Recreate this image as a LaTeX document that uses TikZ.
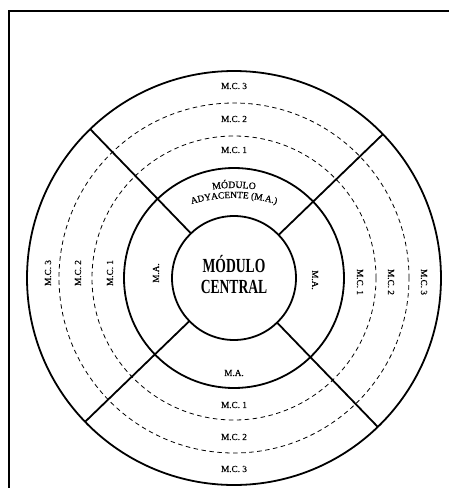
\documentclass[tikz,border=0pt]{standalone}
\usepackage{fontspec}
\usepackage{graphicx}
\setmainfont{Liberation Serif}
\newfontfamily\labfont[FakeBold=0.6]{Liberation Serif}
\usetikzlibrary{decorations.text}
\begin{document}
\begin{tikzpicture}[x=1pt,y=1pt,
  ring/.style={circle, draw, line width=1.8pt, inner sep=0pt, outer sep=0pt},
  guide/.style={circle, draw, dash pattern=on 4.5pt off 3.5pt, line width=0.8pt, inner sep=0pt, outer sep=0pt},
  divider/.style={line width=1.8pt},
  lab/.style={font=\labfont\fontsize{9.2}{10}\selectfont, inner sep=1pt},
  title/.style={font=\fontsize{20}{21}\selectfont\bfseries, align=center, inner sep=0pt},
  arclab/.style={decorate, decoration={text along path, text align=center, text={#1}}}]

\useasboundingbox (0,0) rectangle (448,-488);

% frame
\draw[line width=1.6pt] (9,-500) -- (9,-11) -- (470,-11);

% rings of modules
\coordinate (C) at (234,-278);
\node[ring,  minimum size=414pt] (outer)   at (C) {};
\node[guide, minimum size=350pt] (mctwo)   at (C) {};
\node[guide, minimum size=284pt] (mcone)   at (C) {};
\node[ring,  minimum size=220pt] (adj)     at (C) {};
\node[ring,  minimum size=124pt] (central) at (C) {};

% radial dividers between the quadrants
\foreach \a in {44,134,224,314}
  \draw[divider] (central.\a) -- (outer.\a);

% central module
\node[title] (core) at (234,-274.5)
  {\scalebox{0.68}[1]{MÓDULO}\\\scalebox{0.68}[1]{CENTRAL}};

% adjacent module, upper quadrant (curved)
\path[arclab={|\labfont\fontsize{9.8}{10}\selectfont|MÓDULO}]
  (182.7,-197) arc[start angle=110, end angle=70, radius=150];
\path[arclab={|\labfont\fontsize{9.4}{10}\selectfont|ADYACENTE (M.A.)}]
  (170.6,-212) arc[start angle=115, end angle=65, radius=150];

% upper quadrant
\node[lab] (t3) at (234,-86)  {M.C. 3};
\node[lab] (t2) at (234,-119) {M.C. 2};
\node[lab] (t1) at (234,-150) {M.C. 1};

% lower quadrant
\node[lab] (b0) at (234,-373) {M.A.};
\node[lab] (b1) at (234,-405) {M.C. 1};
\node[lab] (b2) at (234,-437) {M.C. 2};
\node[lab] (b3) at (234,-469) {M.C. 3};

% left quadrant
\node[lab, rotate=90] (l3) at (48,-273)  {M.C. 3};
\node[lab, rotate=90] (l2) at (78,-273)  {M.C. 2};
\node[lab, rotate=90] (l1) at (110,-273) {M.C. 1};
\node[lab, rotate=90] (l0) at (156,-273) {M.A.};

% right quadrant
\node[lab, rotate=-90] (r0) at (315,-280) {M.A.};
\node[lab, rotate=-90] (r1) at (360,-282) {M.C. 1};
\node[lab, rotate=-90] (r2) at (391,-282) {M.C. 2};
\node[lab, rotate=-90] (r3) at (424,-282) {M.C. 3};
\end{tikzpicture}
\end{document}
